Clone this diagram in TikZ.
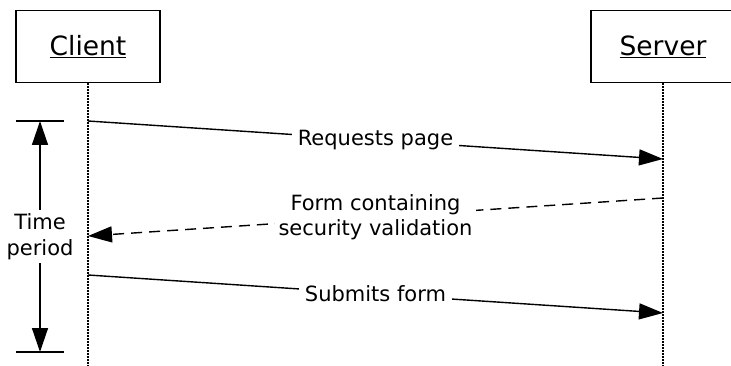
\documentclass[tikz,border=0pt]{standalone}
\usepackage{fontspec}
\setmainfont{DejaVu Sans}
\usetikzlibrary{arrows.meta}
\begin{document}
\begin{tikzpicture}[x=1pt,y=-1pt,
  actor/.style={draw,line width=1.4pt,minimum width=144pt,minimum height=72pt,inner sep=0pt,font=\fontsize{26.5}{31}\selectfont},
  life/.style={line width=1.1pt,dash pattern=on 1.5pt off 1.5pt},
  tip/.style={-{Triangle[length=24pt,width=16pt]}},
  msg/.style={line width=1.4pt,tip},
  reply/.style={line width=1.4pt,tip,dash pattern=on 11pt off 7pt},
  lbl/.style={fill=white,inner sep=6pt,align=center,font=\fontsize{21}{25.5}\selectfont},
  bar/.style={line width=1.4pt}]
\useasboundingbox (0,0) rectangle (731,366);
\clip (0,0) rectangle (731,366);
\node[actor] (client) at (88,46.5) {\underline{Client}};
\node[actor] (server) at (663,46.5) {\underline{Server}};
\coordinate (cend) at (88,366);
\coordinate (send) at (663,366);
\draw[life] (client.south) -- (cend);
\draw[life] (server.south) -- (send);
\coordinate (c1) at (88,121);
\coordinate (s1) at (663,159);
\coordinate (s2) at (663,198);
\coordinate (c2) at (88,236);
\coordinate (c3) at (88,275);
\coordinate (s3) at (663,313);
\draw[msg] (c1) -- node[lbl] {Requests page} (s1);
\draw[reply] (s2) -- node[lbl,inner sep=4pt] {Form containing\\security validation} (c2);
\draw[msg] (c3) -- node[lbl] {Submits form} (s3);
\coordinate (tl) at (16,121);
\coordinate (tr) at (64,121);
\coordinate (bl) at (16,352);
\coordinate (br) at (64,352);
\coordinate (tt) at (40,121);
\coordinate (tb) at (40,352);
\draw[bar] (tl) -- (tr);
\draw[bar] (bl) -- (br);
\draw[line width=1.4pt,{Triangle[length=24pt,width=16pt]}-{Triangle[length=24pt,width=16pt]}] (tt) -- node[fill=white,inner sep=3pt,align=center,font=\fontsize{21}{26}\selectfont] (tp) {Time\\period} (tb);
\end{tikzpicture}
\end{document}
